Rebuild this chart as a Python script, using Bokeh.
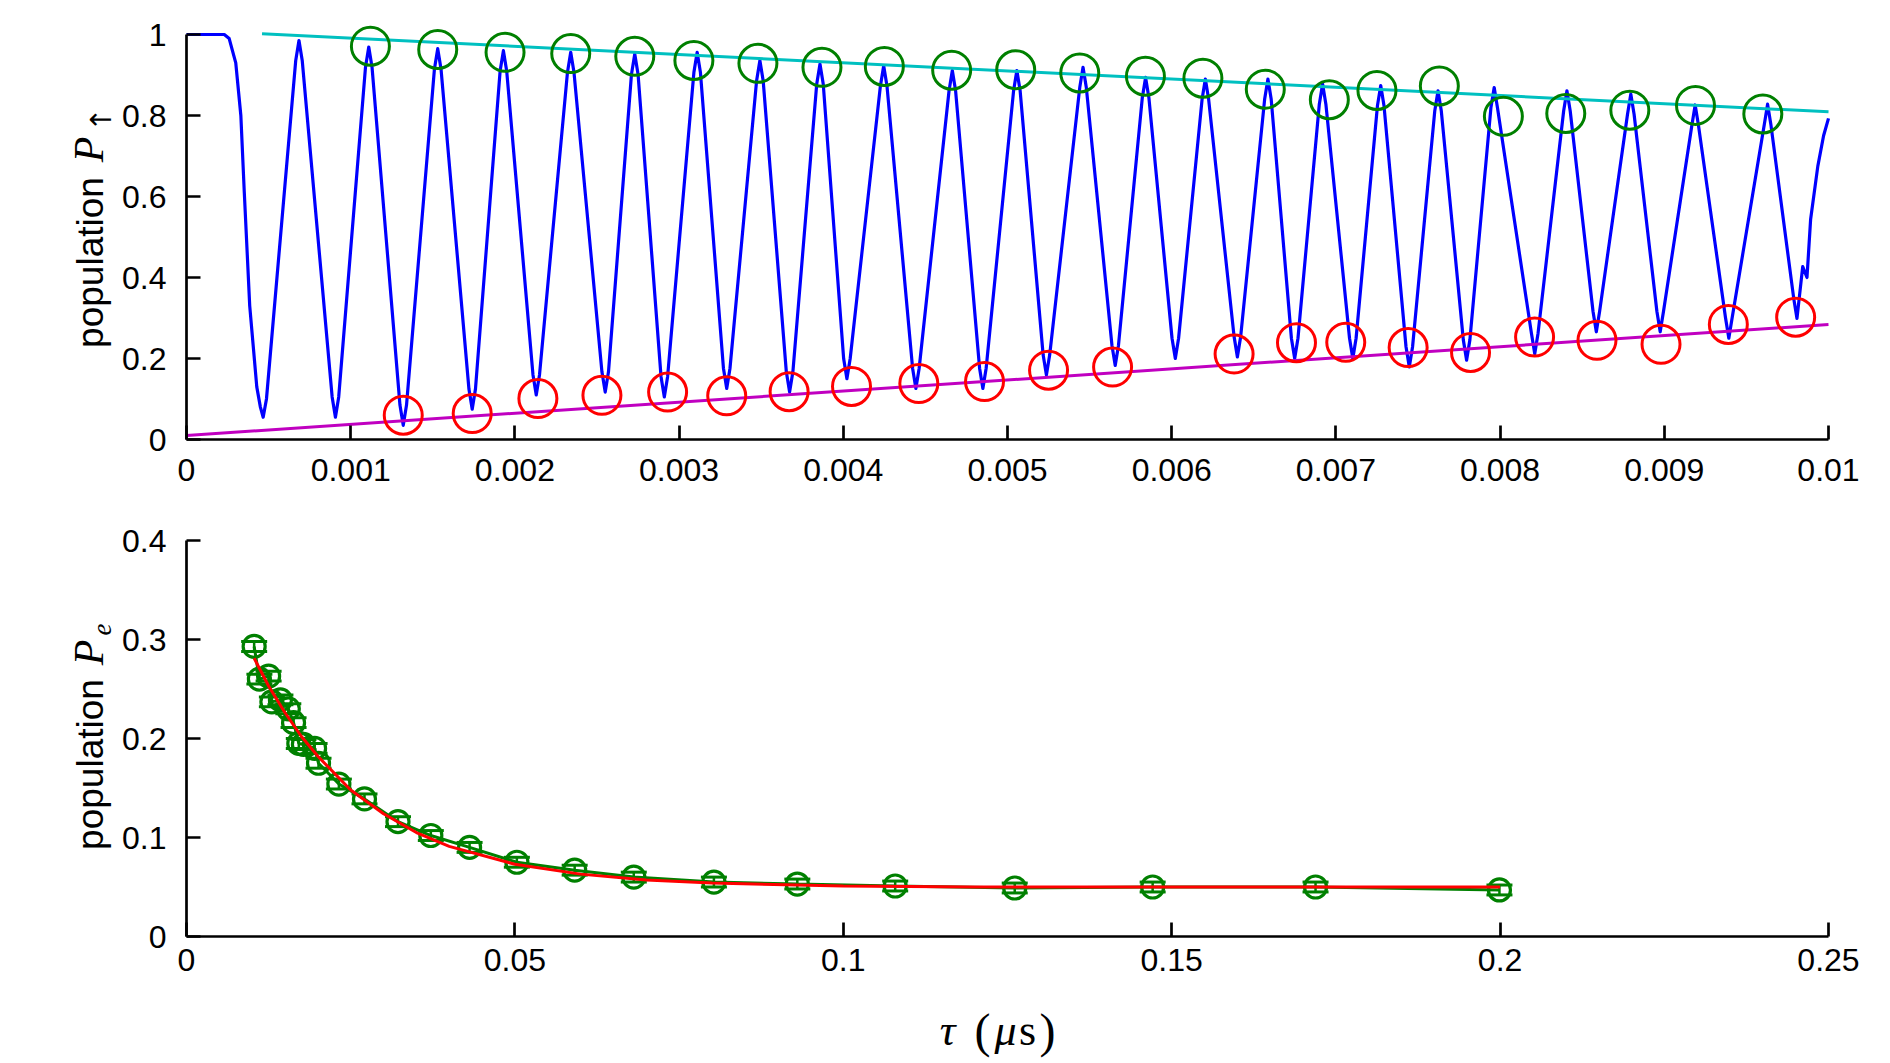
import math
from bokeh.plotting import figure
from bokeh.models import Range1d, FixedTicker, Label, Whisker, TeeHead, ColumnDataSource
from bokeh.layouts import column
from bokeh.embed import file_html
from bokeh.resources import INLINE

# ---------------- top panel data: P_up(tau) trace ----------------
trace_x = [0.0, 0.00023, 0.00026, 0.00030, 0.000331, 0.000352, 0.000385, 0.000428,
           0.000450, 0.000467, 0.000487,
           0.000665, 0.000685, 0.000705,
           0.000887, 0.000907, 0.000927,
           0.00109, 0.00111, 0.00113,
           0.00130, 0.00132, 0.00134,
           0.00151, 0.00153, 0.00155,
           0.00172, 0.00174, 0.00176,
           0.00191, 0.00193, 0.00195,
           0.00211, 0.00213, 0.00215,
           0.00232, 0.00234, 0.00236,
           0.00253, 0.00255, 0.00257,
           0.00271, 0.00273, 0.00275,
           0.00289, 0.00291, 0.00293,
           0.00309, 0.00311, 0.00313,
           0.00327, 0.00329, 0.00331,
           0.003472, 0.003492, 0.003512,
           0.003653, 0.003673, 0.003693,
           0.003838, 0.003858, 0.003878,
           0.004002, 0.004022, 0.004042,
           0.004226, 0.004246, 0.004266,
           0.004422, 0.004442, 0.004462,
           0.004644, 0.004664, 0.004684,
           0.004830, 0.004850, 0.004870,
           0.005037, 0.005057, 0.005077,
           0.005217, 0.005237, 0.005257,
           0.005440, 0.005460, 0.005480,
           0.005636, 0.005656, 0.005676,
           0.005821, 0.005841, 0.005861,
           0.006002, 0.006022, 0.006042,
           0.006185, 0.006205, 0.006225,
           0.006380, 0.006400, 0.006420,
           0.006566, 0.006586, 0.006606,
           0.006729, 0.006749, 0.006769,
           0.006899, 0.006919, 0.006939,
           0.007083, 0.007103, 0.007123,
           0.007253, 0.007273, 0.007293,
           0.007427, 0.007447, 0.007467,
           0.007602, 0.007622, 0.007642,
           0.007776, 0.007796, 0.007816,
           0.007944, 0.007964, 0.007984,
           0.008191, 0.008211, 0.008231,
           0.008387, 0.008407, 0.008427,
           0.008566, 0.008586, 0.008606,
           0.008776, 0.008796, 0.008816,
           0.008955, 0.008975, 0.008995,
           0.009168, 0.009188, 0.009208,
           0.009373, 0.009393, 0.009413,
           0.009609, 0.009629, 0.009649,
           0.009788, 0.009808,
           0.009843, 0.009869, 0.009891, 0.009935, 0.00997, 0.01]
trace_y = [1.0, 1.0, 0.99, 0.93, 0.80, 0.61, 0.33, 0.13,
           0.080, 0.055, 0.100,
           0.935, 0.985, 0.935,
           0.105, 0.055, 0.105,
           0.919, 0.969, 0.919,
           0.085, 0.035, 0.085,
           0.915, 0.965, 0.915,
           0.125, 0.075, 0.125,
           0.910, 0.960, 0.910,
           0.160, 0.110, 0.160,
           0.906, 0.956, 0.906,
           0.167, 0.117, 0.167,
           0.902, 0.952, 0.902,
           0.155, 0.105, 0.155,
           0.906, 0.956, 0.906,
           0.176, 0.126, 0.176,
           0.886, 0.936, 0.886,
           0.167, 0.117, 0.167,
           0.877, 0.927, 0.877,
           0.200, 0.150, 0.200,
           0.873, 0.923, 0.873,
           0.176, 0.126, 0.176,
           0.861, 0.911, 0.861,
           0.176, 0.126, 0.176,
           0.861, 0.911, 0.861,
           0.209, 0.159, 0.209,
           0.869, 0.919, 0.869,
           0.233, 0.183, 0.233,
           0.844, 0.894, 0.844,
           0.250, 0.200, 0.250,
           0.840, 0.890, 0.840,
           0.254, 0.204, 0.254,
           0.840, 0.890, 0.840,
           0.250, 0.200, 0.250,
           0.828, 0.878, 0.828,
           0.250, 0.200, 0.250,
           0.824, 0.874, 0.824,
           0.229, 0.179, 0.229,
           0.811, 0.861, 0.811,
           0.246, 0.196, 0.246,
           0.819, 0.869, 0.819,
           0.262, 0.212, 0.262,
           0.811, 0.861, 0.811,
           0.316, 0.266, 0.316,
           0.803, 0.853, 0.803,
           0.316, 0.266, 0.316,
           0.776, 0.826, 0.776,
           0.300, 0.250, 0.300,
           0.778, 0.828, 0.778,
           0.349, 0.299,
           0.427, 0.400, 0.543, 0.675, 0.750, 0.793]

peak_x = [0.00112, 0.00153, 0.00194, 0.00234, 0.00273, 0.00309, 0.00348, 0.00387, 0.00425,
          0.00466, 0.00505, 0.00544, 0.00584, 0.00619, 0.00657, 0.00696, 0.00725, 0.00763,
          0.00802, 0.00840, 0.00879, 0.00919, 0.00960]
peak_y = [0.971, 0.963, 0.956, 0.953, 0.946, 0.936, 0.929, 0.919, 0.921,
          0.912, 0.913, 0.905, 0.897, 0.892, 0.865, 0.839, 0.862, 0.873,
          0.798, 0.805, 0.813, 0.825, 0.804]

dip_x = [0.00132, 0.00174, 0.00214, 0.00253, 0.00293, 0.00329, 0.00367, 0.00405, 0.00446,
         0.00486, 0.00525, 0.00564, 0.00638, 0.00676, 0.00706, 0.00744, 0.00782, 0.00821,
         0.00859, 0.00898, 0.00939, 0.00980]
dip_y = [0.060, 0.064, 0.101, 0.109, 0.117, 0.108, 0.118, 0.131, 0.138,
         0.143, 0.171, 0.179, 0.211, 0.239, 0.240, 0.227, 0.215, 0.253,
         0.245, 0.235, 0.284, 0.302]

upper_env_x = [0.00046, 0.01]
upper_env_y = [1.002, 0.809]
lower_env_x = [0.0, 0.01]
lower_env_y = [0.010, 0.284]

top_xticks = [0, 0.001, 0.002, 0.003, 0.004, 0.005, 0.006, 0.007, 0.008, 0.009, 0.01]
top_xlabels = ["0", "0.001", "0.002", "0.003", "0.004", "0.005", "0.006", "0.007", "0.008", "0.009", "0.01"]
top_yticks = [0, 0.2, 0.4, 0.6, 0.8, 1]
top_ylabels = ["0", "0.2", "0.4", "0.6", "0.8", "1"]

# ---------------- bottom panel data: P_e(tau) ----------------
tau = [0.0103, 0.0111, 0.0125, 0.0130, 0.0143, 0.0155, 0.0163, 0.0171, 0.0178, 0.0195,
       0.0201, 0.0232, 0.0271, 0.0322, 0.0372, 0.0431, 0.0503, 0.0591, 0.0681, 0.0803,
       0.0930, 0.1079, 0.1261, 0.1471, 0.1719, 0.1999]
pe = [0.293, 0.260, 0.263, 0.237, 0.239, 0.230, 0.216, 0.195, 0.194, 0.190,
      0.175, 0.154, 0.139, 0.116, 0.102, 0.090, 0.075, 0.067, 0.060, 0.055,
      0.053, 0.051, 0.049, 0.050, 0.050, 0.047]
pe_err = [0.005] * len(tau)

fit_x = [0.0103, 0.0125, 0.015, 0.0175, 0.02, 0.025, 0.03, 0.035, 0.04, 0.05, 0.06,
         0.07, 0.08, 0.1, 0.12, 0.15, 0.2]
fit_y = [0.281, 0.253, 0.226, 0.202, 0.182, 0.148, 0.124, 0.105, 0.091, 0.073, 0.063,
         0.057, 0.054, 0.051, 0.050, 0.050, 0.050]

bot_xticks = [0, 0.05, 0.1, 0.15, 0.2, 0.25]
bot_xlabels = ["0", "0.05", "0.1", "0.15", "0.2", "0.25"]
bot_yticks = [0, 0.1, 0.2, 0.3, 0.4]
bot_ylabels = ["0", "0.1", "0.2", "0.3", "0.4"]

SANS = "Liberation Sans"
SERIF = "Liberation Serif"
TICK_PT = "32px"

# page geometry (px, page origin at top-left of the figures)
W = 1880
X0, X1 = 186, 1828           # x = 0 and x = xmax, both panels
FR_L, FR_R = 24, 1866        # frame extent (wider than axes so labels fit inside)
T_Y0, T_Y1 = 439, 34         # top panel: y = 0 and y = 1
B_Y0, B_Y1 = 936, 540        # bottom panel: y = 0 and y = 0.4
H1 = 500                     # top figure height
H2 = 560                     # bottom figure height


def style_axes(p, xt, xl, yt, yl, xb, yb, xstand):
    for ax, ticks, labels in ((p.xaxis[0], xt, xl), (p.yaxis[0], yt, yl)):
        ax.ticker = FixedTicker(ticks=ticks)
        ax.major_label_overrides = {t: s for t, s in zip(ticks, labels)}
        ax.axis_line_width = 2.7
        ax.axis_line_color = "black"
        ax.major_tick_line_width = 2.7
        ax.major_tick_line_color = "black"
        ax.major_tick_in = 14
        ax.major_tick_out = 0
        ax.minor_tick_line_color = None
        ax.major_label_text_font = SANS
        ax.major_label_text_font_size = TICK_PT
        ax.major_label_text_color = "black"
        ax.fixed_location = 0
    p.xaxis[0].major_label_standoff = xstand
    p.yaxis[0].major_label_standoff = 20
    p.xaxis[0].bounds = xb
    p.yaxis[0].bounds = yb
    p.xgrid.grid_line_color = None
    p.ygrid.grid_line_color = None
    p.outline_line_color = None
    p.background_fill_color = "white"
    p.border_fill_color = "white"


def lab(p, x, y, text, font, size, style="normal", angle=0.0):
    p.add_layout(Label(x=x, y=y, text=text, text_font=font, text_font_size=size,
                       text_font_style=style, angle=angle, text_align="center",
                       text_baseline="middle", text_color="black"))


# ---------------- top figure ----------------
tx = 0.01 / (X1 - X0)
ty = 1.0 / (T_Y0 - T_Y1)
top1 = 8
p1 = figure(width=W, height=H1, output_backend="svg", toolbar_location=None, title=None,
            x_range=Range1d(-(X0 - FR_L) * tx, 0.01 + (FR_R - X1) * tx),
            y_range=Range1d(-(H1 - T_Y0) * ty, (T_Y0 - top1) * ty),
            min_border_left=FR_L, min_border_right=W - FR_R,
            min_border_top=top1, min_border_bottom=0)
style_axes(p1, top_xticks, top_xlabels, top_yticks, top_ylabels, (0, 0.01), (0, 1), 19)

p1.line(trace_x, trace_y, line_color="#0000ff", line_width=3.2, line_join="round")
p1.line(upper_env_x, upper_env_y, line_color="#00c0c0", line_width=3)
p1.line(lower_env_x, lower_env_y, line_color="#c000c0", line_width=3)
p1.scatter(peak_x, peak_y, marker="circle", size=38, fill_color=None,
           line_color="#008000", line_width=3)
p1.scatter(dip_x, dip_y, marker="circle", size=38, fill_color=None,
           line_color="#ff0000", line_width=3)

lab(p1, (90 - X0) * tx, (T_Y0 - 262) * ty, "population", SANS, "37px", angle=math.pi / 2)
lab(p1, (88 - X0) * tx, (T_Y0 - 149) * ty, "P", SERIF, "42px", "italic", angle=math.pi / 2)
lab(p1, (100 - X0) * tx, (T_Y0 - 119) * ty, "\u2191", "DejaVu Sans", "29px", angle=math.pi / 2)

# ---------------- bottom figure ----------------
bx = 0.25 / (X1 - X0)
by = 0.4 / (B_Y0 - B_Y1)
top2 = 510
bot2 = H1 + H2
p2 = figure(width=W, height=H2, output_backend="svg", toolbar_location=None, title=None,
            x_range=Range1d(-(X0 - FR_L) * bx, 0.25 + (FR_R - X1) * bx),
            y_range=Range1d(-(bot2 - B_Y0) * by, 0.4 + (B_Y1 - top2) * by),
            min_border_left=FR_L, min_border_right=W - FR_R,
            min_border_top=top2 - H1, min_border_bottom=0)
style_axes(p2, bot_xticks, bot_xlabels, bot_yticks, bot_ylabels, (0, 0.25), (0, 0.4), 12)

src = ColumnDataSource(dict(x=tau, y=pe,
                            upper=[a + b for a, b in zip(pe, pe_err)],
                            lower=[a - b for a, b in zip(pe, pe_err)]))
p2.line("x", "y", source=src, line_color="#008000", line_width=3)
p2.add_layout(Whisker(source=src, base="x", upper="upper", lower="lower", dimension="height",
                      line_color="#008000", line_width=2.5,
                      upper_head=TeeHead(size=26, line_color="#008000", line_width=3),
                      lower_head=TeeHead(size=26, line_color="#008000", line_width=3)))
p2.scatter("x", "y", source=src, marker="circle", size=22, fill_color=None,
           line_color="#008000", line_width=3.2)
p2.line(fit_x, fit_y, line_color="#ff0000", line_width=3)

lab(p2, (90 - X0) * bx, (B_Y0 - 764) * by, "population", SANS, "37px", angle=math.pi / 2)
lab(p2, (88 - X0) * bx, (B_Y0 - 652) * by, "P", SERIF, "42px", "italic", angle=math.pi / 2)
lab(p2, (101 - X0) * bx, (B_Y0 - 629) * by, "e", SERIF, "27px", "italic", angle=math.pi / 2)

yl = (B_Y0 - 1030) * by
lab(p2, (947 - X0) * bx, yl, "\u03c4", SERIF, "44px", "italic")
lab(p2, (982 - X0) * bx, yl, "(", SERIF, "48px")
lab(p2, (1005 - X0) * bx, yl, "\u03bc", SERIF, "44px", "italic")
lab(p2, (1027 - X0) * bx, yl, "s", SERIF, "44px")
lab(p2, (1047 - X0) * bx, yl, ")", SERIF, "48px")

layout = column(p1, p2, spacing=0)
open("out.html", "w").write(file_html(layout, INLINE))
